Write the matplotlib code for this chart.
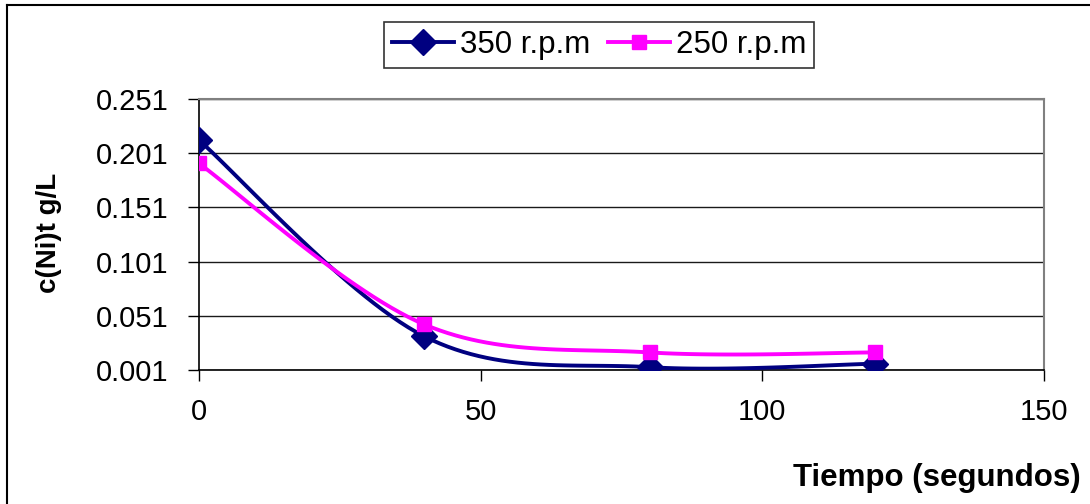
import numpy as np
import matplotlib
matplotlib.use("Agg")
import matplotlib.pyplot as plt
from matplotlib.lines import Line2D

plt.rcParams['font.family'] = ['Liberation Sans', 'DejaVu Sans']

tiempo = [0, 40, 80, 120]
c_350 = [0.213, 0.032, 0.0036, 0.0068]
c_250 = [0.1915, 0.043, 0.0172, 0.0172]
labels = ["350 r.p.m", "250 r.p.m"]
yticks = [0.001, 0.051, 0.101, 0.151, 0.201, 0.251]
xticks = [0, 50, 100, 150]


def smooth(x, y, n=30):
    # Bezier smoothing through the points (Excel-style smoothed line)
    x = np.asarray(x, float); y = np.asarray(y, float)
    px = np.concatenate([[x[0]], x, [x[-1]]])
    py = np.concatenate([[y[0]], y, [y[-1]]])
    xs, ys = [], []
    t = np.linspace(0, 1, n)
    for i in range(1, len(px) - 2):
        p0 = np.array([px[i], py[i]]); p3 = np.array([px[i + 1], py[i + 1]])
        c1 = p0 + (np.array([px[i + 1], py[i + 1]]) - np.array([px[i - 1], py[i - 1]])) / 6
        c2 = p3 - (np.array([px[i + 2], py[i + 2]]) - np.array([px[i], py[i]])) / 6
        b = ((1 - t) ** 3)[:, None] * p0 + (3 * (1 - t) ** 2 * t)[:, None] * c1 \
            + (3 * (1 - t) * t ** 2)[:, None] * c2 + (t ** 3)[:, None] * p3
        xs.extend(b[:, 0]); ys.extend(b[:, 1])
    return xs, ys


fig = plt.figure(figsize=(10.9, 5.04), dpi=100)
ax = fig.add_axes([199 / 1090, 1 - 370 / 504, (1044 - 199) / 1090, (370 - 99) / 504])

navy = '#000080'
pink = '#FF00FF'

sx, sy = smooth(tiempo, c_350)
ax.plot(sx, sy, color=navy, lw=2.8, zorder=3)
ax.plot(tiempo, c_350, ls='none', marker='D', ms=13, color=navy, zorder=4)
sx, sy = smooth(tiempo, c_250)
ax.plot(sx, sy, color=pink, lw=2.8, zorder=3)
ax.plot(tiempo, c_250, ls='none', marker='s', ms=9.5, color=pink, zorder=4)

ax.set_xlim(0, 150)
ax.set_ylim(0.001, 0.251)
ax.set_xticks(xticks)
ax.set_yticks(yticks)
ax.set_yticklabels([f"{v:.3f}" for v in yticks])
ax.tick_params(axis='both', direction='out', length=8, width=1, labelsize=21, colors='black')
ax.tick_params(axis='x', pad=12)
ax.tick_params(axis='y', pad=14)
ax.grid(axis='y', color='#1a1a1a', lw=1)
ax.set_axisbelow(True)
for s in ['top', 'right']:
    ax.spines[s].set_color('#808080')
    ax.spines[s].set_linewidth(1.5)
for s in ['left', 'bottom']:
    ax.spines[s].set_color('black')
    ax.spines[s].set_linewidth(1.2)

fig.text(937 / 1090, 1 - 478 / 504, "Tiempo (segundos)", fontsize=22.5, fontweight='bold',
         ha='center', va='center')
fig.text(49 / 1090, 1 - 233 / 504, "c(Ni)t g/L", fontsize=20, fontweight='bold',
         ha='center', va='center', rotation=90)

handles = [Line2D([], [], color=navy, lw=2.8, marker='D', ms=13),
           Line2D([], [], color=pink, lw=2.8, marker='s', ms=9.5)]
leg = fig.legend(handles, labels, loc='center', bbox_to_anchor=(599 / 1090, 1 - 45 / 504),
                 ncol=2, fontsize=22.5, frameon=True, fancybox=False, handlelength=2.0,
                 handletextpad=0.18, columnspacing=0.55, borderpad=0.25, borderaxespad=0)
leg.get_frame().set_edgecolor('black')
leg.get_frame().set_linewidth(1.2)

# outer chart border (top and left visible)
fig.add_artist(Line2D([7 / 1090, 7 / 1090], [0, 1 - 5 / 504], transform=fig.transFigure,
                      color='black', lw=1.5))
fig.add_artist(Line2D([7 / 1090, 1], [1 - 5 / 504, 1 - 5 / 504], transform=fig.transFigure,
                      color='black', lw=1.5))

fig.savefig("out.png", dpi=100)
